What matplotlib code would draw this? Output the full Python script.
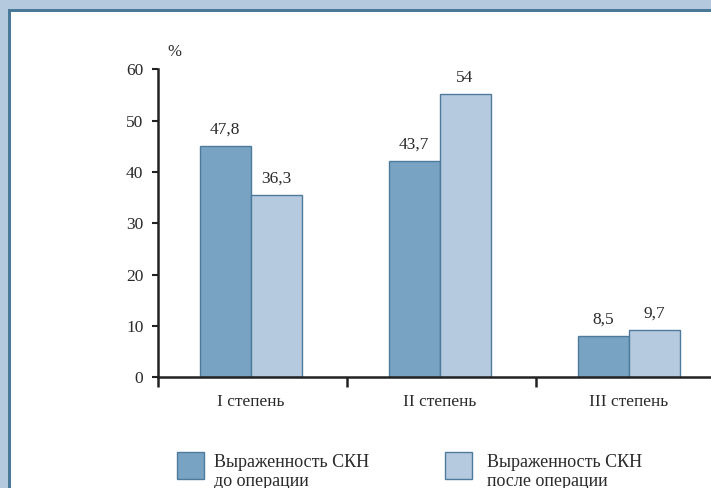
import matplotlib.pyplot as plt
from matplotlib.patches import Rectangle
import numpy as np

plt.rcParams['font.family'] = ['Liberation Serif', 'DejaVu Serif']

categories = ['I степень', 'II степень', 'III степень']
before_vals = [45.1, 42.2, 8.1]     # bar heights as drawn
after_vals = [35.6, 55.2, 9.2]
before_labels = ['47,8', '43,7', '8,5']
after_labels = ['36,3', '54', '9,7']
legend_labels = ['Выраженность СКН\nдо операции', 'Выраженность СКН\nпосле операции']

c_dark = '#78a3c2'
c_light = '#b6cadf'
c_edge = '#4e7b9c'
c_frame = '#b4c9dd'
c_border = '#4a7898'

W, H = 711, 488
fig = plt.figure(figsize=(W / 100, H / 100), dpi=100)
fig.patch.set_facecolor(c_frame)

# framed white panel
fig.patches.append(Rectangle((8 / W, 0), 1, (H - 9) / H, transform=fig.transFigure,
                             facecolor=c_border, edgecolor='none', zorder=-10))
fig.patches.append(Rectangle((11 / W, 0), 1, (H - 12) / H, transform=fig.transFigure,
                             facecolor='white', edgecolor='none', zorder=-9))

x0, y0 = 158, 377.3
ax = fig.add_axes([x0 / W, (H - y0) / H, 567 / W, (y0 - 69.3) / H])
ax.set_facecolor('none')
ax.set_zorder(1)

x = np.arange(len(categories)) + 0.49
w = 0.27
ax.bar(x - w / 2, before_vals, w, color=c_dark, edgecolor=c_edge, linewidth=1.0)
ax.bar(x + w / 2, after_vals, w, color=c_light, edgecolor=c_edge, linewidth=1.0)

for xi, v, lab in zip(x - w / 2, before_vals, before_labels):
    ax.annotate(lab, (xi, v), xytext=(0, 6), textcoords='offset points',
                ha='center', va='bottom', fontsize=12.5, color='#2a2a2a')
for xi, v, lab in zip(x + w / 2, after_vals, after_labels):
    ax.annotate(lab, (xi, v), xytext=(0, 6), textcoords='offset points',
                ha='center', va='bottom', fontsize=12.5, color='#2a2a2a')

ax.set_xlim(0, 3)
ax.set_ylim(0, 60)
for s in ['top', 'right']:
    ax.spines[s].set_visible(False)
for s in ['left', 'bottom']:
    ax.spines[s].set_linewidth(1.8)
    ax.spines[s].set_color('#222222')

ax.set_yticks(range(0, 61, 10))
ax.tick_params(axis='y', direction='out', length=4.5, width=1.5, color='#222222',
               labelsize=12.5, labelcolor='#2a2a2a', pad=6)
ax.set_xticks([0, 1, 2, 3])
ax.set_xticklabels([])
ax.tick_params(axis='x', which='major', direction='out', length=7.5, width=1.8, color='#222222')
ax.set_xticks(x, minor=True)
ax.set_xticklabels(categories, minor=True)
ax.tick_params(axis='x', which='minor', length=0, pad=12, labelsize=12.5, labelcolor='#2a2a2a')

ax.text(0.085, 61.8, '%', ha='center', va='bottom', fontsize=12, color='#2a2a2a')

# legend
for (sx, tx), col, lab in zip([(177, 214), (445, 487)], [c_dark, c_light], legend_labels):
    fig.patches.append(Rectangle((sx / W, (H - 479) / H), 27 / W, 27 / H,
                                 transform=fig.transFigure, facecolor=col,
                                 edgecolor=c_edge, linewidth=1.0))
    fig.text(tx / W, (H - 454) / H, lab, ha='left', va='top', fontsize=13,
             color='#2a2a2a', linespacing=1.15)

fig.savefig('out.png', dpi=100, facecolor=fig.get_facecolor())
